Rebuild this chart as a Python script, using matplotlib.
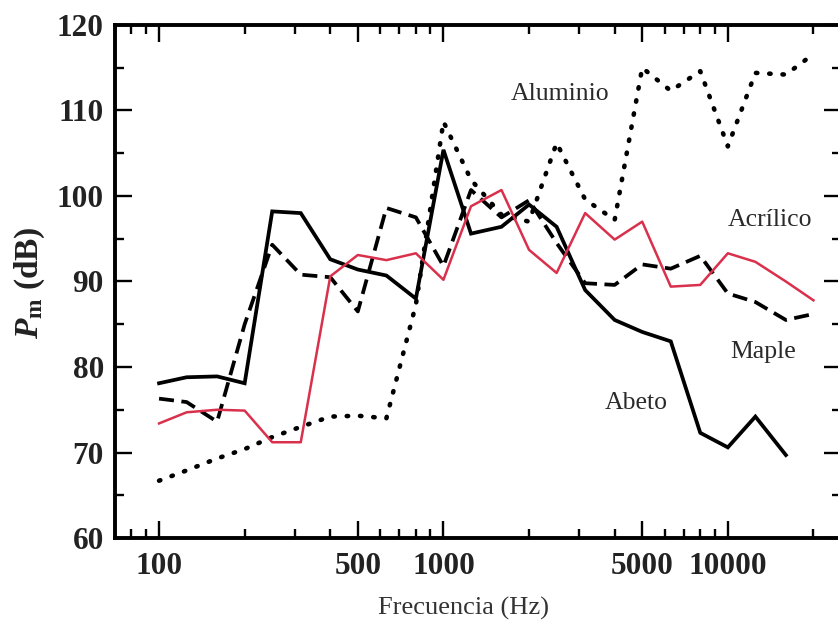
import matplotlib
matplotlib.use("Agg")
import matplotlib.pyplot as plt
from matplotlib.ticker import FixedLocator, NullFormatter, FixedFormatter

plt.rcParams['font.family'] = ['Liberation Serif', 'DejaVu Serif']
plt.rcParams['mathtext.fontset'] = 'custom'
plt.rcParams['mathtext.it'] = 'Liberation Serif:italic:bold'
plt.rcParams['mathtext.rm'] = 'Liberation Serif:bold'
plt.rcParams['mathtext.bf'] = 'Liberation Serif:bold'

# third-octave band centre frequencies (Hz)
freq = [100, 125, 160, 200, 250, 315, 400, 500, 630, 800, 1000, 1250, 1600,
        2000, 2500, 3150, 4000, 5000, 6300, 8000, 10000, 12500, 16000, 20000]

abeto = [78.1, 78.8, 78.9, 78.1, 98.2, 98.0, 92.6, 91.4, 90.7, 88.0, 105.4, 95.6,
         96.4, 99.0, 96.4, 89.0, 85.5, 84.1, 83.0, 72.3, 70.6, 74.2, 69.7]
maple = [76.3, 75.9, 73.6, 85.0, 94.3, 90.8, 90.5, 86.5, 98.6, 97.5, 91.8, 100.7,
         97.5, 99.5, 94.5, 89.8, 89.6, 92.0, 91.5, 93.0, 88.6, 87.6, 85.5, 86.2]
aluminio = [66.7, 67.9, 69.3, 70.4, 71.8, 73.0, 74.2, 74.3, 74.0, 87.3, 108.7, 101.9,
            97.8, 97.0, 106.2, 99.6, 97.2, 115.0, 112.3, 114.6, 105.8, 114.4, 114.2, 116.6]
acrilico = [73.4, 74.7, 75.0, 74.9, 71.2, 71.2, 90.6, 93.1, 92.5, 93.3, 90.2, 98.8,
            100.7, 93.7, 91.0, 98.0, 94.9, 97.0, 89.4, 89.6, 93.3, 92.3, 90.0, 87.8]

xticks = [100, 500, 1000, 5000, 10000]
xticklabels = ["100", "500", "1000", "5000", "10000"]
yticks = [60, 70, 80, 90, 100, 110, 120]

labels = ["Aluminio", "Acrílico", "Maple", "Abeto"]
label_pos = [(2577, 111.9), (14030, 97.2), (13360, 81.7), (4775, 75.8)]

fig = plt.figure(figsize=(8.38, 6.22), dpi=100)
W, H = 838, 622
ax = fig.add_axes([115 / W, (H - 538) / H, (841 - 115) / W, (538 - 25) / H])

ax.plot(freq[:len(abeto)], abeto, color='black', lw=2.7, solid_joinstyle='miter')
ax.plot(freq, maple, color='black', lw=2.7, linestyle=(0, (4, 2)))
ax.plot(freq, aluminio, color='black', lw=3.3, linestyle=(0, (0.3, 2.6)),
        dash_capstyle='round')
ax.plot(freq, acrilico, color='#d9304c', lw=1.8)

ax.set_xscale('log')
ax.set_xlim(70, 25000)
ax.set_ylim(60, 120)

ax.xaxis.set_major_locator(FixedLocator(xticks))
ax.xaxis.set_major_formatter(FixedFormatter(xticklabels))
minor = [m * d for d in (10, 100, 1000, 10000) for m in range(1, 10)]
minor = [v for v in minor if 70 <= v <= 25000 and v not in xticks]
ax.xaxis.set_minor_locator(FixedLocator(minor))
ax.xaxis.set_minor_formatter(NullFormatter())
ax.yaxis.set_major_locator(FixedLocator(yticks))
ax.yaxis.set_minor_locator(FixedLocator([65, 75, 85, 95, 105, 115]))

ax.tick_params(which='both', direction='in', top=True, right=True, width=1.7,
               color='black')
ax.tick_params(which='major', length=12)
ax.tick_params(which='minor', length=6.5)
ax.tick_params(axis='both', which='major', labelsize=22.5, pad=8)
for lab in ax.get_xticklabels() + ax.get_yticklabels():
    lab.set_fontweight('bold')
    lab.set_color('#222222')
ax.tick_params(axis='x', pad=10)

for s in ax.spines.values():
    s.set_linewidth(2.8)

for txt, (fx, fy) in zip(labels, label_pos):
    ax.text(fx, fy, txt, fontsize=18.5, color='#2a2a2a', ha='center', va='center')

fig.text(464 / W, 1 - 608 / H, "Frecuencia (Hz)", fontsize=19, color='#333333',
         ha='center', va='center')
fig.text(30 / W, 1 - 283 / H, r"$P_{\rm m}$ (dB)", fontsize=24, fontweight='bold',
         color='#222222', rotation=90, ha='center', va='center')

fig.savefig("out.png", dpi=100)
